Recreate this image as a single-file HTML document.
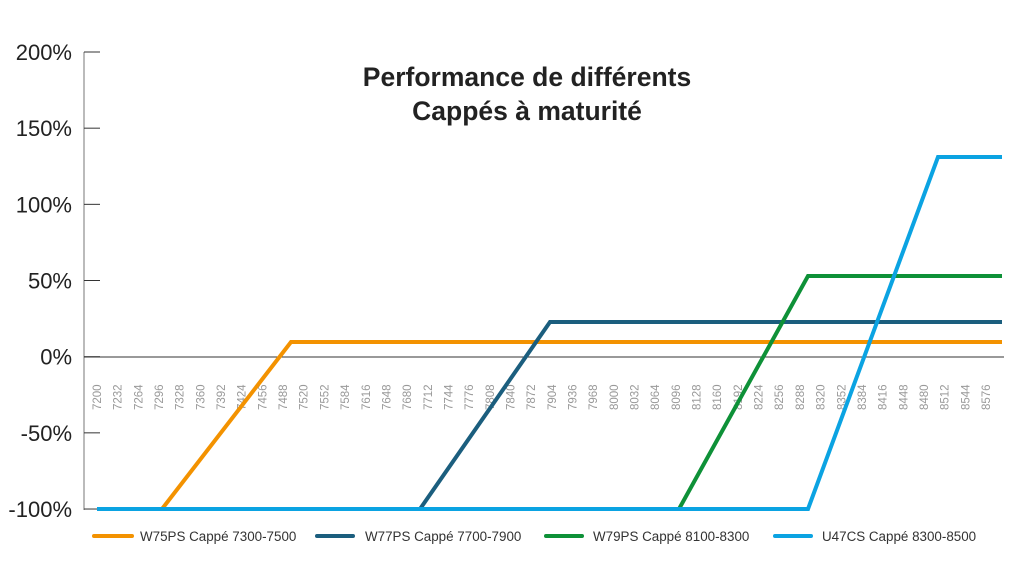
<!DOCTYPE html>
<html><head><meta charset="utf-8"><style>
html,body{margin:0;padding:0;background:#fff;}
svg{display:block;font-family:"Liberation Sans",sans-serif;}
</style></head><body>
<svg id="s" width="1033" height="561" viewBox="0 0 1033 561" xmlns="http://www.w3.org/2000/svg">
<rect width="1033" height="561" fill="#fff"/>
<text x="527" y="86" text-anchor="middle" font-size="26.5" font-weight="bold" fill="#222">Performance de différents</text>
<text x="527" y="120" text-anchor="middle" font-size="26.5" font-weight="bold" fill="#222">Cappés à maturité</text>
<line x1="84" y1="52" x2="84" y2="510" stroke="#bbb" stroke-width="2"/>
<line x1="84" y1="357" x2="1004" y2="357" stroke="#333" stroke-width="1"/>
<g id="yt" font-size="22" fill="#222" text-anchor="end"></g>
<g id="xt" font-size="11.5" fill="#999"></g>
<polyline points="97,509 162,509 291,342 1002,342" fill="none" stroke="#F39200" stroke-width="4"/>
<polyline points="97,509 420,509 550,322 1002,322" fill="none" stroke="#1B5E7E" stroke-width="4"/>
<polyline points="97,509 679,509 808,276 1002,276" fill="none" stroke="#0E9138" stroke-width="4"/>
<polyline points="97,509 808,509 938,157 1002,157" fill="none" stroke="#0BA3E2" stroke-width="4"/>
<g font-size="13.4" fill="#333">
<line x1="94" y1="536" x2="132" y2="536" stroke="#F39200" stroke-width="4" stroke-linecap="round"/>
<text x="140" y="541">W75PS Cappé 7300-7500</text>
<line x1="317" y1="536" x2="353" y2="536" stroke="#1B5E7E" stroke-width="4" stroke-linecap="round"/>
<text x="365" y="541">W77PS Cappé 7700-7900</text>
<line x1="546" y1="536" x2="582" y2="536" stroke="#0E9138" stroke-width="4" stroke-linecap="round"/>
<text x="593" y="541">W79PS Cappé 8100-8300</text>
<line x1="775" y1="536" x2="811" y2="536" stroke="#0BA3E2" stroke-width="4" stroke-linecap="round"/>
<text x="822" y="541">U47CS Cappé 8300-8500</text>
</g>
</svg>
<script>
var ns="http://www.w3.org/2000/svg",s=document.getElementById('s'),yt=document.getElementById('yt'),xt=document.getElementById('xt');
var labs=["200%","150%","100%","50%","0%","-50%","-100%"];
for(var i=0;i<7;i++){var y=52+i*76.17;
 var l=document.createElementNS(ns,'line');l.setAttribute('x1',84);l.setAttribute('x2',100);l.setAttribute('y1',y);l.setAttribute('y2',y);l.setAttribute('stroke','#333');yt.appendChild(l);
 var t=document.createElementNS(ns,'text');t.setAttribute('x',72);t.setAttribute('y',y+8);t.textContent=labs[i];yt.appendChild(t);}
for(var k=0;k<44;k++){var x=97+k*20.674+4;var t=document.createElementNS(ns,'text');
 t.setAttribute('transform','translate('+x+',410) rotate(-90)');t.textContent=7200+32*k;xt.appendChild(t);}
</script>
</body></html>
